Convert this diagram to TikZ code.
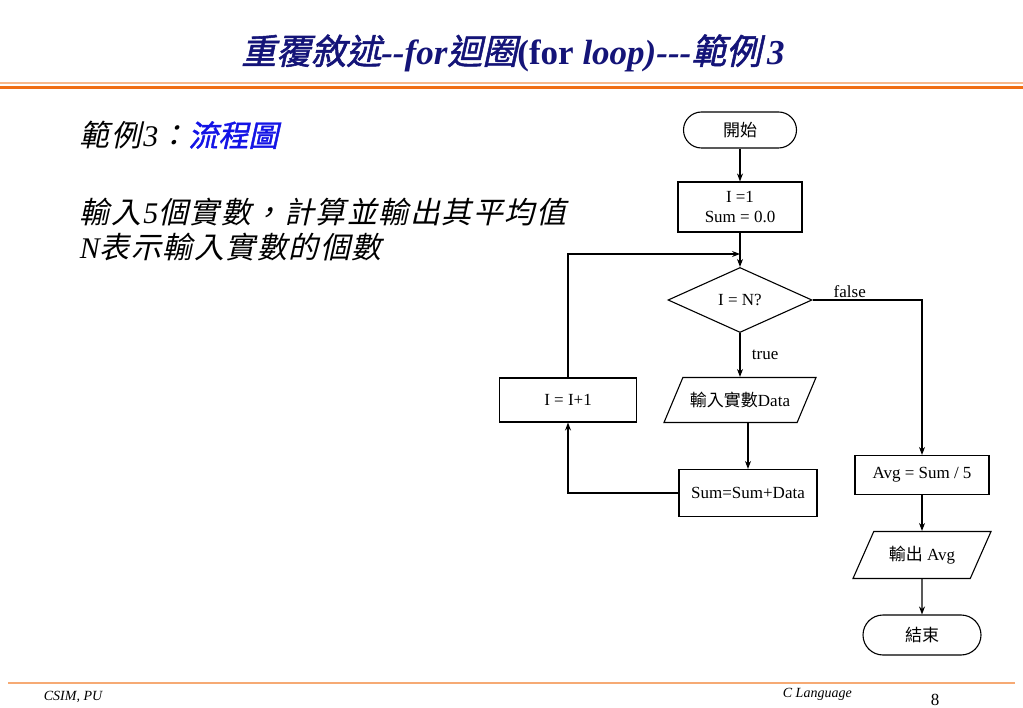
\documentclass[tikz,border=0pt]{standalone}
\usepackage{fontspec}
\setmainfont{Liberation Serif}
\newfontfamily\cjk{Noto Sans CJK TC}
\newfontfamily\cjkit[FakeSlant=0.22,LetterSpace=5]{Noto Sans CJK TC}
\newfontfamily\cjkbf[FakeSlant=0.22,FakeBold=1.5]{Noto Sans CJK TC}
\usetikzlibrary{arrows,arrows.meta,shapes,positioning}
\definecolor{titlenavy}{RGB}{20,20,120}
\definecolor{rulelight}{RGB}{248,185,140}
\definecolor{ruleorange}{RGB}{240,110,20}
\definecolor{chartblue}{RGB}{20,20,230}
\begin{document}
\begin{tikzpicture}[x=1pt,y=-1pt,>={Stealth[length=8,width=6]},line width=1.1pt,
  every node/.style={font=\fontsize{17}{20}\selectfont},
  term/.style={draw,rectangle,rounded corners=18,minimum width=113,minimum height=36},
  proc/.style={draw,rectangle,inner sep=2},
  decide/.style={draw,diamond,minimum width=144,minimum height=65,inner sep=0},
  io/.style={draw,trapezium,trapezium left angle=50,trapezium right angle=130,
    trapezium stretches body,minimum width=152,minimum height=45}]
% Page outline
  \fill[white] (0,0) rectangle (1023,708);
  \useasboundingbox (0,0) rectangle (1023,708);
% Title and its rules
  \node[text=titlenavy,font=\fontsize{35}{40}\selectfont\bfseries\itshape] (title) at (513,53)
    {{\normalfont\cjkbf 重覆敘述}-{}-for{\normalfont\cjkbf 迴圈}{\upshape(for} loop)-{}-{}-{\normalfont\cjkbf 範例}\,3};
  \draw[rulelight,line width=1.5] (0,83) -- (1023,83);
  \draw[ruleorange,line width=3.5] (0,87.5) -- (1023,87.5);
% Left hand text
  \node[anchor=west,font=\fontsize{30}{35}\selectfont] (ex) at (76,135)
    {{\cjkit 範例}\kern2pt{\itshape 3}{\cjkit ：}{\cjkbf\color{chartblue}流程圖}};
  \node[anchor=west,font=\fontsize{30}{35}\selectfont] (task) at (76,212)
    {{\cjkit 輸入}\kern2pt{\itshape 5}{\cjkit 個實數，計算並輸出其平均值}};
  \node[anchor=west,font=\fontsize{30}{35}\selectfont] (note) at (76,247)
    {{\itshape N}{\cjkit 表示輸入實數的個數}};
% Start and initial values
  \node[term] (start) at (740,130) {\cjk 開始};
  \node[proc,align=center,minimum width=124,minimum height=50] (init) at (740,207) {I =1\\Sum = 0.0};
  \coordinate (join) at (740,254);
% Loop test
  \node[decide] (test) at (740,300) {I = N?};
% Loop body
  \node[io] (read) at (740,400) {{\cjk 輸入實數}Data};
  \node[proc,minimum width=138,minimum height=47] (sum) at (748,493) {Sum=Sum+Data};
  \node[proc,minimum width=137,minimum height=44] (incr) at (568,400) {I = I+1};
% After the loop
  \node[proc,minimum width=134,minimum height=39] (avg) at (922,475) {Avg = Sum / 5};
  \node[io,minimum width=138,minimum height=47] (out) at (922,555) {{\cjk 輸出} Avg};
  \node[term,minimum width=118,minimum height=40,rounded corners=20] (stop) at (922,635) {\cjk 結束};
% Connectors
  \draw[->] (start) -- (init);
  \draw[->] (init) -- (test);
  \draw[->] (incr) |- (join);
  \draw[->] (test) -- node[right=8]{true} (read);
  \draw[->] (read.south -| sum) -- (sum);
  \draw[->] (sum) -| (incr);
  \draw[->] (test) -| node[pos=0.17,above=2]{false} (avg);
  \draw[->] (avg) -- (out);
  \draw[->] (out) -- (stop);
% Footer
  \draw[rulelight!80!ruleorange,line width=1.2] (8,683) -- (1015,683);
  \node[anchor=west,font=\fontsize{14}{16}\selectfont\itshape] (org) at (40,697) {CSIM, PU};
  \node[anchor=west,font=\fontsize{14}{16}\selectfont\itshape] (course) at (779,694) {C Language};
  \node (page) at (935,700) {8};
\end{tikzpicture}
\end{document}
